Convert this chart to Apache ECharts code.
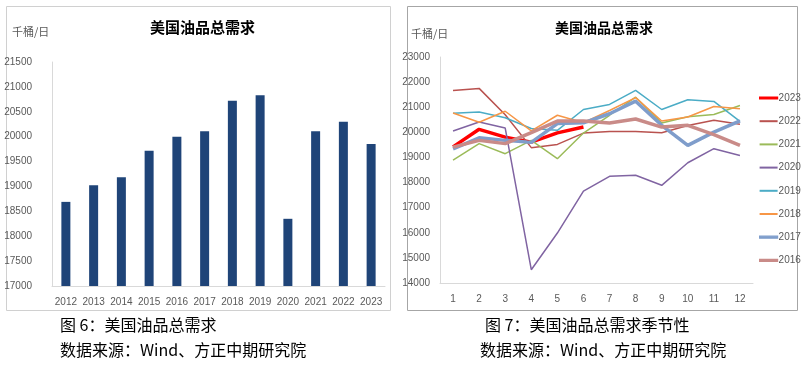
<!DOCTYPE html>
<html>
<head>
<meta charset="utf-8">
<script src="https://cdn.jsdelivr.net/npm/echarts@6/dist/echarts.min.js"></script>
<style>
html,body{margin:0;padding:0;background:#fff;}
#main{width:806px;height:373px;}
</style>
</head>
<body>
<div id="main"></div>
<script>
var years = ['2012','2013','2014','2015','2016','2017','2018','2019','2020','2021','2022','2023'];
var demand = [18690, 19025, 19185, 19715, 20000, 20110, 20720, 20830, 18350, 20110, 20300, 19855];

var months = ['1','2','3','4','5','6','7','8','9','10','11','12'];
var s2023 = [19420, 20120, 19810, 19610, 19980, 20210];
var s2022 = [21670, 21750, 20700, 19390, 19520, 19970, 20030, 20030, 19980, 20270, 20480, 20320];
var s2021 = [18890, 19550, 19150, 19680, 18950, 19970, 20680, 21400, 20370, 20620, 20710, 21070];
var s2020 = [20050, 20410, 20170, 14530, 15990, 17660, 18250, 18290, 17890, 18790, 19350, 19080];
var s2019 = [20760, 20810, 20580, 20150, 20080, 20910, 21110, 21670, 20910, 21300, 21230, 20440];
var s2018 = [20770, 20400, 20840, 20060, 20680, 20380, 20870, 21380, 20450, 20610, 21030, 20940];
var s2017 = [19340, 19780, 19680, 19600, 20350, 20380, 20740, 21240, 20280, 19480, 20010, 20460];
var s2016 = [19410, 19680, 19550, 19990, 20450, 20450, 20370, 20530, 20210, 20280, 19910, 19480];

var seasonNames = ['2023','2022','2021','2020','2019','2018','2017','2016'];
var seasonData = [s2023, s2022, s2021, s2020, s2019, s2018, s2017, s2016];
var seasonColors = ['#FF0000','#B9524F','#9BBB59','#8064A2','#4BACC6','#F79646','#7F9DCB','#C98B88'];
var seasonWidths = [3.5, 1.5, 1.5, 1.5, 1.5, 1.5, 3.5, 3.5];

var tickFont = 'Liberation Sans Narrow, Liberation Sans, sans-serif';
var cjk = 'Noto Sans CJK SC, sans-serif';
var grey = '#595959';

var chart = echarts.init(document.getElementById('main'), null, {renderer:'canvas'});

var lineSeries = seasonNames.map(function(n, i){
  return {
    name: n, type: 'line', xAxisIndex: 1, yAxisIndex: 1,
    data: seasonData[i], symbol: 'none', smooth: false,
    lineStyle: {color: seasonColors[i], width: seasonWidths[i]},
    itemStyle: {color: seasonColors[i]},
    emphasis: {disabled: true}, animation: false
  };
});

var legendData = seasonNames.map(function(n, i){
  var thick = seasonWidths[i] > 2;
  return {
    name: n, icon: 'rect',
    itemStyle: {color: seasonColors[i], borderColor: seasonColors[i], borderWidth: thick ? 1.2 : 0}
  };
});

var option = {
  animation: false,
  backgroundColor: '#fff',
  grid: [
    {left: 52, right: 421, top: 62, bottom: 87},
    {left: 440, right: 53, top: 57, bottom: 90}
  ],
  xAxis: [
    {type: 'category', gridIndex: 0, data: years,
     axisLine: {lineStyle: {color: '#D9D9D9'}}, axisTick: {show: false},
     axisLabel: {color: grey, fontSize: 10, fontFamily: tickFont, margin: 11, interval: 0}},
    {type: 'category', gridIndex: 1, data: months, boundaryGap: true,
     axisLine: {lineStyle: {color: '#D9D9D9'}}, axisTick: {show: false},
     axisLabel: {color: grey, fontSize: 10, fontFamily: tickFont, margin: 11, interval: 0}}
  ],
  yAxis: [
    {type: 'value', gridIndex: 0, min: 17000, max: 21500, interval: 500,
     axisLine: {show: true, lineStyle: {color: '#D9D9D9'}}, axisTick: {show: false},
     splitLine: {show: false},
     axisLabel: {color: grey, fontSize: 10, fontFamily: tickFont, margin: 20, formatter: function(v){return String(v);}}},
    {type: 'value', gridIndex: 1, min: 14000, max: 23000, interval: 1000,
     axisLine: {show: true, lineStyle: {color: '#D9D9D9'}}, axisTick: {show: false},
     splitLine: {show: false},
     axisLabel: {color: grey, fontSize: 10, fontFamily: tickFont, margin: 10, formatter: function(v){return String(v);}}}
  ],
  legend: {
    orient: 'vertical', left: 754, top: 88, itemWidth: 18, itemHeight: 2, itemGap: 13.2,
    data: legendData,
    textStyle: {color: grey, fontSize: 10, fontFamily: tickFont, padding: [0,0,0,-4]},
    selectedMode: false
  },
  series: [
    {type: 'bar', xAxisIndex: 0, yAxisIndex: 0, data: demand, barWidth: 9,
     itemStyle: {color: '#1F4478'}, emphasis: {disabled: true}}
  ].concat(lineSeries),
  graphic: [
    {type: 'rect', shape: {x: 6.5, y: 6.5, width: 384, height: 304}, style: {fill: 'none', stroke: '#D0D0D0', lineWidth: 1}, silent: true},
    {type: 'rect', shape: {x: 407.5, y: 6.5, width: 390, height: 304}, style: {fill: 'none', stroke: '#A6A6A6', lineWidth: 1}, silent: true},
    {type: 'text', left: 150, top: 20, style: {text: '美国油品总需求', font: 'bold 15px ' + cjk, fill: '#000'}},
    {type: 'text', left: 555, top: 21, style: {text: '美国油品总需求', font: 'bold 14px ' + cjk, fill: '#000'}},
    {type: 'text', left: 12, top: 26, style: {text: '千桶/日', font: '11px ' + cjk, fill: grey}},
    {type: 'text', left: 411, top: 28, style: {text: '千桶/日', font: '11px ' + cjk, fill: grey}},
    {type: 'text', left: 60, top: 317, style: {text: '图 6：美国油品总需求', font: '16px ' + cjk, fill: '#000'}},
    {type: 'text', left: 60, top: 342, style: {text: '数据来源：Wind、方正中期研究院', font: '16px ' + cjk, fill: '#000'}},
    {type: 'text', left: 485, top: 317, style: {text: '图 7：美国油品总需求季节性', font: '16px ' + cjk, fill: '#000'}},
    {type: 'text', left: 480, top: 342, style: {text: '数据来源：Wind、方正中期研究院', font: '16px ' + cjk, fill: '#000'}}
  ]
};
chart.setOption(option);
</script>
</body>
</html>
